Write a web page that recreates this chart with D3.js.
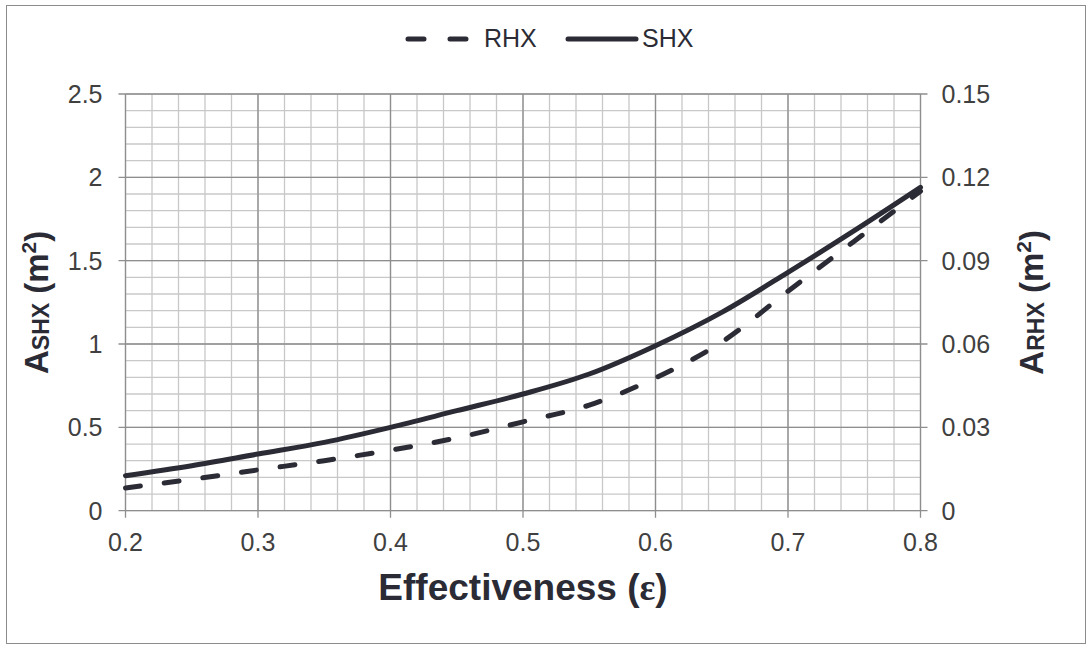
<!DOCTYPE html>
<html lang="en">
<head>
<meta charset="UTF-8">
<script src="https://cdn.jsdelivr.net/npm/d3@7"></script>
<title>Effectiveness vs area</title>
<style>
    body { margin: 0; background: #fff; }
    svg text { font-family: "Liberation Sans", Arial, sans-serif; }
</style>
</head>
<body>
<div id="chart"></div>
<script>
    // effectiveness values
    const eps = [0.2, 0.25, 0.3, 0.35, 0.4, 0.45, 0.5, 0.55, 0.6, 0.65, 0.7, 0.75, 0.8];
    // SHX area, left axis (m2)
    const shx = [0.21, 0.27, 0.34, 0.41, 0.50, 0.60, 0.70, 0.82, 0.99, 1.19, 1.43, 1.68, 1.94];
    // RHX area, right axis (m2)
    const rhx = [0.0082, 0.0113, 0.0147, 0.0180, 0.0218, 0.0262, 0.0320, 0.0380, 0.0478, 0.0607, 0.0790, 0.0970, 0.1150];
    const xTicks = [0.2, 0.3, 0.4, 0.5, 0.6, 0.7, 0.8];
    const yLeftTicks = [0, 0.5, 1, 1.5, 2, 2.5];
    const yRightTicks = [0, 0.03, 0.06, 0.09, 0.12, 0.15];

    const W = 1092, H = 649;
    const plot = {left: 125.5, right: 920.5, top: 94, bottom: 510.7};
    const ink = "#2b2b35", tickCol = "#404040";

    const svg = d3.select("#chart").append("svg")
        .attr("width", W).attr("height", H);

    svg.append("rect")
        .attr("x", 6.5).attr("y", 5.5).attr("width", 1079).attr("height", 638)
        .attr("fill", "#fff").attr("stroke", "#8c8c8c").attr("stroke-width", 1);

    const x = d3.scaleLinear().domain([0.2, 0.8]).range([plot.left, plot.right]);
    const yL = d3.scaleLinear().domain([0, 2.5]).range([plot.bottom, plot.top]);
    const yR = d3.scaleLinear().domain([0, 0.15]).range([plot.bottom, plot.top]);

    // minor grid
    const g = svg.append("g");
    g.selectAll(".vmin").data(d3.range(0.2, 0.8001, 0.02))
        .enter().append("line")
        .attr("x1", d => x(d)).attr("x2", d => x(d))
        .attr("y1", plot.top).attr("y2", plot.bottom)
        .attr("stroke", "#c8c8c8").attr("stroke-width", 1.3);
    g.selectAll(".hmin").data(d3.range(0, 2.5001, 0.1))
        .enter().append("line")
        .attr("y1", d => yL(d)).attr("y2", d => yL(d))
        .attr("x1", plot.left).attr("x2", plot.right)
        .attr("stroke", "#c8c8c8").attr("stroke-width", 1.3);
    // major grid
    g.selectAll(".vmaj").data(xTicks)
        .enter().append("line")
        .attr("x1", d => x(d)).attr("x2", d => x(d))
        .attr("y1", plot.top).attr("y2", plot.bottom + 7)
        .attr("stroke", "#8e8e8e").attr("stroke-width", 1.3);
    g.selectAll(".hmaj").data(yLeftTicks)
        .enter().append("line")
        .attr("y1", d => yL(d)).attr("y2", d => yL(d))
        .attr("x1", plot.left - 7).attr("x2", plot.right + 7)
        .attr("stroke", "#8e8e8e").attr("stroke-width", 1.3);

    // tick labels
    svg.selectAll(".xt").data(xTicks).enter().append("text")
        .attr("x", d => x(d)).attr("y", plot.bottom + 40)
        .attr("text-anchor", "middle").attr("font-size", 25).attr("fill", tickCol)
        .text(d => d3.format(".1f")(d));
    svg.selectAll(".ylt").data(yLeftTicks).enter().append("text")
        .attr("x", plot.left - 23).attr("y", d => yL(d) + 9)
        .attr("text-anchor", "end").attr("font-size", 25).attr("fill", tickCol)
        .text(d => d);
    svg.selectAll(".yrt").data(yRightTicks).enter().append("text")
        .attr("x", plot.right + 21).attr("y", d => yR(d) + 9)
        .attr("text-anchor", "start").attr("font-size", 25).attr("fill", tickCol)
        .text(d => d === 0 ? "0" : d3.format(".2f")(d));

    // lines
    const lineL = d3.line().x((d, i) => x(eps[i])).y(d => yL(d)).curve(d3.curveMonotoneX);
    const lineR = d3.line().x((d, i) => x(eps[i])).y(d => yR(d)).curve(d3.curveMonotoneX);
    svg.append("path").datum(rhx).attr("d", lineR)
        .attr("fill", "none").attr("stroke", ink).attr("stroke-width", 5)
        .attr("stroke-linecap", "round").attr("stroke-dasharray", "15,24");
    svg.append("path").datum(shx).attr("d", lineL)
        .attr("fill", "none").attr("stroke", ink).attr("stroke-width", 5)
        .attr("stroke-linecap", "round");

    // axis titles
    const xT = svg.append("text")
        .attr("x", (plot.left + plot.right) / 2).attr("y", 600)
        .attr("text-anchor", "middle").attr("font-size", 37).attr("font-weight", "bold")
        .attr("fill", ink);
    xT.append("tspan").text("Effectiveness (");
    xT.append("tspan").attr("font-family", "'Liberation Serif', 'Times New Roman', serif").text("ε");
    xT.append("tspan").text(")");

    function yTitle(cx, sub) {
        const t = svg.append("text")
            .attr("transform", `translate(${cx},${(plot.top + plot.bottom) / 2}) rotate(-90)`)
            .attr("text-anchor", "middle").attr("font-size", 33).attr("font-weight", "bold").attr("fill", ink);
        t.append("tspan").text("A");
        t.append("tspan").attr("font-size", 23).attr("dy", 1).text(sub);
        t.append("tspan").attr("dy", -1).text(" (m");
        t.append("tspan").attr("font-size", 21).attr("dy", -12).text("2");
        t.append("tspan").attr("dy", 12).text(")");
    }
    yTitle(48, "SHX");
    yTitle(1043, "RHX");

    // legend
    const leg = svg.append("g");
    leg.append("line").attr("x1", 408).attr("x2", 466).attr("y1", 39).attr("y2", 39)
        .attr("stroke", ink).attr("stroke-width", 5).attr("stroke-linecap", "round")
        .attr("stroke-dasharray", "16,26");
    leg.append("text").attr("x", 484).attr("y", 47).attr("font-size", 25).attr("fill", ink).text("RHX");
    leg.append("line").attr("x1", 568).attr("x2", 636).attr("y1", 39).attr("y2", 39)
        .attr("stroke", ink).attr("stroke-width", 5).attr("stroke-linecap", "round");
    leg.append("text").attr("x", 642).attr("y", 47).attr("font-size", 25).attr("fill", ink).text("SHX");
</script>
</body>
</html>
